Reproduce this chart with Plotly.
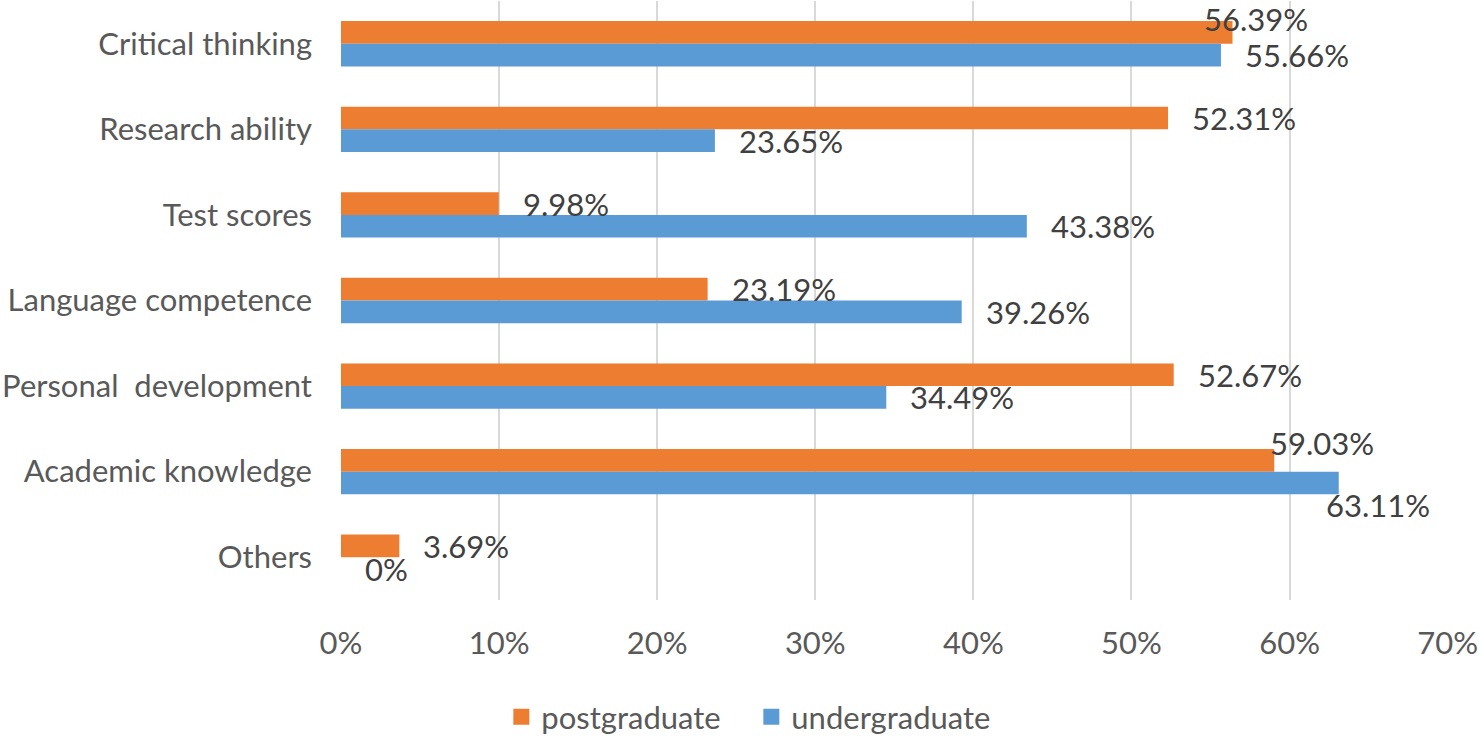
import plotly.graph_objects as go

categories = ["Critical thinking", "Research ability", "Test scores",
              "Language competence", "Personal  development",
              "Academic knowledge", "Others"]
postgraduate = [56.39, 52.31, 9.98, 23.19, 52.67, 59.03, 3.69]
undergraduate = [55.66, 23.65, 43.38, 39.26, 34.49, 63.11, 0.0]
series_names = ["postgraduate", "undergraduate"]
x_tick_vals = [0, 10, 20, 30, 40, 50, 60, 70]
x_tick_text = ["0%", "10%", "20%", "30%", "40%", "50%", "60%", "70%"]

ORANGE = "#ED7D31"
BLUE = "#5B9BD5"
FONT = "Lato, sans-serif"

W, H = 1479, 737
M_L, M_R, M_T, M_B = 341, 31, 1, 137
BAR_HALF = (H - M_T - M_B) / len(categories) * (1 - 0.47) / 4  # half of one bar thickness

fig = go.Figure()
for name, vals, col in [(series_names[0], postgraduate, ORANGE),
                        (series_names[1], undergraduate, BLUE)]:
    fig.add_trace(go.Bar(
        y=categories, x=vals, name=name, orientation="h",
        marker=dict(color=col, line=dict(width=0)),
        hoverinfo="x+y", showlegend=False, legendgroup=name,
    ))
# legend entries with larger square swatches
for name, col in [(series_names[0], ORANGE), (series_names[1], BLUE)]:
    fig.add_trace(go.Scatter(
        x=[None], y=[None], mode="markers", name=name, legendgroup=name,
        marker=dict(symbol="square", size=16, color=col, line=dict(width=0)),
        showlegend=True, hoverinfo="skip",
    ))

# label placement tweaks (pixel offsets) mimicking the original's placement
label_adjust = {
    (0, 0): (-31, 13),   # Critical thinking / postgraduate
    (0, 5): (-6, 17),    # Academic knowledge / postgraduate
    (1, 5): (-15, -22),  # Academic knowledge / undergraduate
}

annotations = []
for si, vals in enumerate([postgraduate, undergraduate]):
    base_y = BAR_HALF if si == 0 else -BAR_HALF
    for ci, (cat, v) in enumerate(zip(categories, vals)):
        dx, dy = label_adjust.get((si, ci), (22, 0))
        txt = f"{v:.2f}%" if v != 0 else "0%"
        annotations.append(dict(
            x=v, y=cat, xref="x", yref="y", text=txt, showarrow=False,
            xanchor="left", yanchor="middle", xshift=dx, yshift=base_y + dy,
            font=dict(family=FONT, size=31, color="#404040"),
        ))

fig.update_layout(
    width=W, height=H,
    margin=dict(l=M_L, r=M_R, t=M_T, b=M_B, pad=0, autoexpand=False),
    paper_bgcolor="white", plot_bgcolor="white",
    barmode="group", bargap=0.47, bargroupgap=0,
    font=dict(family=FONT, size=31, color="#595959"),
    annotations=annotations,
    showlegend=True,
    legend=dict(
        orientation="h", xref="container", yref="container",
        x=0.508, xanchor="center", y=1 - 717 / H, yanchor="middle",
        font=dict(family=FONT, size=31, color="#595959"),
        itemclick=False, itemdoubleclick=False, traceorder="normal",
        bgcolor="rgba(0,0,0,0)", itemsizing="trace",
        entrywidth=205, entrywidthmode="pixels",
    ),
    xaxis=dict(
        range=[0, 70.02], tickvals=x_tick_vals, ticktext=x_tick_text,
        showgrid=True, gridcolor="#D9D9D9", gridwidth=2,
        zeroline=False, showline=False, ticks="",
        ticklabelstandoff=22, automargin=False,
        tickfont=dict(family=FONT, size=31, color="#595959"),
        fixedrange=True,
    ),
    yaxis=dict(
        type="category", autorange="reversed",
        categoryorder="array", categoryarray=categories,
        showgrid=False, zeroline=False, showline=False, ticks="",
        ticklabelstandoff=28, automargin=False,
        tickfont=dict(family=FONT, size=31, color="#595959"),
        fixedrange=True,
    ),
)

fig.write_html("out.html", config={"displayModeBar": False},
               post_script="document.body.style.margin='0';document.body.style.overflow='hidden';")
